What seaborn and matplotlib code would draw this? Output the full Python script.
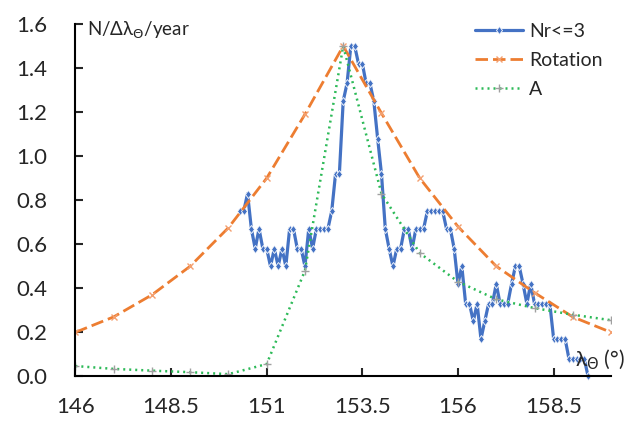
import seaborn as sns
import matplotlib.pyplot as plt

# solar longitude grid of the measured profile (deg)
nr_x = [150.3, 150.4, 150.5, 150.6, 150.7, 150.8, 150.9, 151.0, 151.1, 151.2,
        151.3, 151.4, 151.5, 151.6, 151.7, 151.8, 151.9, 152.0, 152.1, 152.2,
        152.3, 152.4, 152.5, 152.6, 152.7, 152.8, 152.9, 153.0, 153.1, 153.2,
        153.3, 153.4, 153.5, 153.6, 153.7, 153.8, 153.9, 154.0, 154.1, 154.2,
        154.3, 154.4, 154.5, 154.6, 154.7, 154.8, 154.9, 155.0, 155.1, 155.2,
        155.3, 155.4, 155.5, 155.6, 155.7, 155.8, 155.9, 156.0, 156.1, 156.2,
        156.3, 156.4, 156.5, 156.6, 156.7, 156.8, 156.9, 157.0, 157.1, 157.2,
        157.3, 157.4, 157.5, 157.6, 157.7, 157.8, 157.9, 158.0, 158.1, 158.2,
        158.3, 158.4, 158.5, 158.6, 158.7, 158.8, 158.9, 159.0, 159.1, 159.2,
        159.3, 159.4]
nr_y = [0.75, 0.75, 0.83, 0.67, 0.58, 0.67, 0.58, 0.58, 0.50, 0.58,
        0.50, 0.58, 0.50, 0.67, 0.67, 0.58, 0.58, 0.50, 0.67, 0.58,
        0.67, 0.67, 0.67, 0.67, 0.75, 0.92, 0.92, 1.25, 1.33, 1.50,
        1.50, 1.42, 1.42, 1.33, 1.33, 1.25, 1.08, 0.92, 0.67, 0.58,
        0.50, 0.58, 0.58, 0.67, 0.67, 0.58, 0.67, 0.67, 0.67, 0.75,
        0.75, 0.75, 0.75, 0.75, 0.67, 0.67, 0.58, 0.42, 0.50, 0.33,
        0.33, 0.25, 0.33, 0.17, 0.25, 0.33, 0.33, 0.42, 0.33, 0.33,
        0.33, 0.42, 0.50, 0.50, 0.42, 0.33, 0.42, 0.33, 0.33, 0.33,
        0.33, 0.33, 0.17, 0.17, 0.17, 0.17, 0.08, 0.08, 0.08, 0.08,
        0.08, 0.00]

model_x = [146, 147, 148, 149, 150, 151, 152, 153, 154, 155, 156, 157, 158, 159, 160]
rotation_y = [0.20, 0.27, 0.37, 0.50, 0.675, 0.90, 1.19, 1.50, 1.195, 0.90, 0.68, 0.50, 0.38, 0.27, 0.20]
a_y = [0.047, 0.034, 0.026, 0.019, 0.01, 0.056, 0.48, 1.50, 0.83, 0.56, 0.43, 0.35, 0.31, 0.28, 0.255]

xtick_vals = [146, 148.5, 151, 153.5, 156, 158.5]
xtick_labels = ['146', '148.5', '151', '153.5', '156', '158.5']
ytick_vals = [0.0, 0.2, 0.4, 0.6, 0.8, 1.0, 1.2, 1.4, 1.6]

sns.set_style('white')
plt.rcParams['font.family'] = ['Lato', 'DejaVu Sans']

fig = plt.figure(figsize=(6.28, 4.21), dpi=100)
ax = fig.add_axes([0.12, 0.106, 0.853, 0.837])

sns.lineplot(x=nr_x, y=nr_y, ax=ax, color='#4472C4', linewidth=2.3,
             marker='d', markersize=4.5, markeredgewidth=0.6, label='Nr<=3',
             clip_on=False)
sns.lineplot(x=model_x, y=rotation_y, ax=ax, color='#ED7D31', linewidth=2.0,
             linestyle=(0, (4.5, 1.8)), marker='x', markersize=5,
             markeredgecolor='#F4A070', markeredgewidth=1.0, label='Rotation')
sns.lineplot(x=model_x, y=a_y, ax=ax, color='#2DBA58', linewidth=1.8,
             linestyle=(0, (0.8, 1.6)), marker='+', markersize=6,
             markeredgecolor='#A0A0A0', markeredgewidth=1.0, label='A')

ax.set_xlim(146, 160)
ax.set_ylim(0, 1.6)
ax.set_xticks(xtick_vals)
ax.set_xticklabels(xtick_labels)
ax.set_yticks(ytick_vals)
ax.set_yticklabels([f'{v:.1f}' for v in ytick_vals])
ax.tick_params(axis='x', direction='in', length=6, width=1.5, pad=15,
               labelsize=16, bottom=True)
ax.tick_params(axis='y', direction='in', length=6, width=1.5, pad=20,
               labelsize=16, left=True)

for side in ['top', 'right']:
    ax.spines[side].set_visible(False)
for side in ['left', 'bottom']:
    ax.spines[side].set_color('black')
    ax.spines[side].set_linewidth(1.5)

ax.set_xlabel('')
ax.set_ylabel('')
ax.text(146.3, 1.57, r'N/Δλ$_\Theta$/year', fontsize=13.5, va='center', ha='left')
ax.text(159.05, 0.075, r'λ$_\Theta$ (°)', fontsize=15, va='center', ha='left',
        clip_on=False)

ax.legend(loc='upper left', bbox_to_anchor=(0.756, 0.945),
          bbox_transform=fig.transFigure, frameon=False, fontsize=14,
          handlelength=2.5, handletextpad=0.3, labelspacing=0.62,
          borderpad=0, borderaxespad=0)

fig.savefig('out.png', dpi=100)
